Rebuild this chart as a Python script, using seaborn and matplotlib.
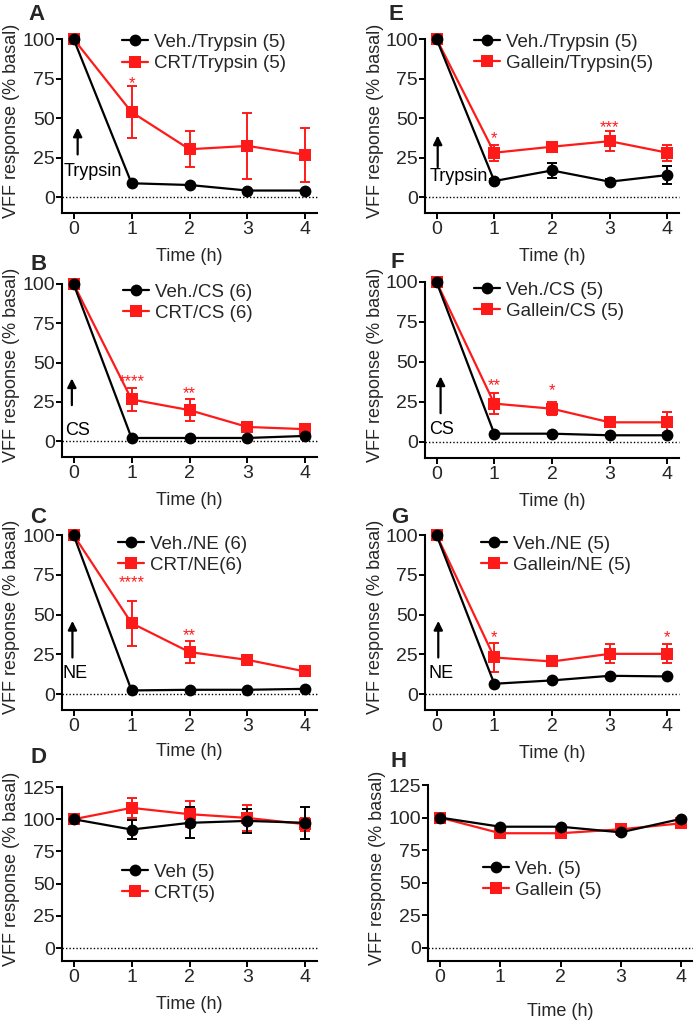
import matplotlib
matplotlib.use("Agg")
import matplotlib.pyplot as plt
from matplotlib.lines import Line2D
import pandas as pd
import seaborn as sns

# ---------------- data ----------------
time_h = [0, 1, 2, 3, 4]

# Panel A : Trypsin, CRT
a_veh = [100, 8.8, 7.7, 4.2, 4.2]
a_veh_sem = [0, 0, 0, 0, 0]
a_trt = [100, 53.8, 30.3, 32.4, 26.8]
a_trt_sem = [0, 16.5, 11.5, 21.0, 17.0]
a_labels = ["Veh./Trypsin (5)", "CRT/Trypsin (5)"]
a_star_x = [1]
a_star_y = [74.7]
a_star_txt = ["*"]

# Panel B : CS, CRT
b_veh = [100, 2.1, 2.1, 2.1, 3.4]
b_veh_sem = [0, 0, 0, 0, 0]
b_trt = [100, 26.6, 19.8, 9.1, 7.7]
b_trt_sem = [0, 7.3, 7.0, 2.0, 1.5]
b_labels = ["Veh./CS (6)", "CRT/CS (6)"]
b_star_x = [1, 2]
b_star_y = [40.6, 33.0]
b_star_txt = ["****", "**"]

# Panel C : NE, CRT
c_veh = [100, 2.3, 2.7, 2.7, 3.3]
c_veh_sem = [0, 0, 0, 0, 0]
c_trt = [100, 44.6, 26.4, 21.5, 14.2]
c_trt_sem = [0, 14.2, 7.0, 2.0, 1.5]
c_labels = ["Veh./NE (6)", "CRT/NE(6)"]
c_star_x = [1, 2]
c_star_y = [72.6, 39.3]
c_star_txt = ["****", "**"]

# Panel D : CRT alone
d_veh = [100, 92.0, 97.2, 98.7, 97.2]
d_veh_sem = [0, 7.7, 12.0, 9.4, 12.5]
d_trt = [100, 108.8, 103.9, 101.0, 96.1]
d_trt_sem = [0, 7.5, 10.0, 10.0, 5.0]
d_labels = ["Veh (5)", "CRT(5)"]
d_star_x = []
d_star_y = []
d_star_txt = []

# Panel E : Trypsin, Gallein
e_veh = [100, 10.2, 16.9, 9.8, 14.0]
e_veh_sem = [0, 1.5, 5.0, 1.5, 5.5]
e_trt = [100, 28.1, 31.9, 35.4, 28.1]
e_trt_sem = [0, 5.0, 3.0, 6.5, 5.0]
e_labels = ["Veh./Trypsin (5)", "Gallein/Trypsin(5)"]
e_star_x = [1, 3]
e_star_y = [39.6, 46.5]
e_star_txt = ["*", "***"]

# Panel F : CS, Gallein
f_veh = [100, 5.2, 5.2, 4.2, 4.2]
f_veh_sem = [0, 0, 0, 0, 0]
f_trt = [100, 24.0, 20.8, 12.3, 12.3]
f_trt_sem = [0, 6.5, 4.0, 2.0, 6.5]
f_labels = ["Veh./CS (5)", "Gallein/CS (5)"]
f_star_x = [1, 2]
f_star_y = [38.0, 34.8]
f_star_txt = ["**", "*"]

# Panel G : NE, Gallein
g_veh = [100, 6.5, 8.6, 11.5, 11.1]
g_veh_sem = [0, 0, 0, 0, 0]
g_trt = [100, 23.0, 20.5, 25.3, 25.3]
g_trt_sem = [0, 9.4, 3.0, 6.0, 6.0]
g_labels = ["Veh./NE (5)", "Gallein/NE (5)"]
g_star_x = [1, 4]
g_star_y = [38.3, 38.3]
g_star_txt = ["*", "*"]

# Panel H : Gallein alone
h_veh = [100, 93.0, 93.0, 88.7, 99.0]
h_veh_sem = [0, 0, 0, 2.0, 0]
h_trt = [100, 88.0, 88.0, 91.0, 95.6]
h_trt_sem = [0, 2.0, 2.0, 4.0, 2.0]
h_labels = ["Veh. (5)", "Gallein (5)"]
h_star_x = []
h_star_y = []
h_star_txt = []

# stimulus annotations: (text, arrow x, arrow bottom, arrow top, text x, text y)
a_stim = ("Trypsin", 0.07, 27, 44, -0.17, 16)
b_stim = ("CS", -0.03, 23, 40, -0.14, 7)
c_stim = ("NE", -0.02, 23, 46, -0.19, 13)
e_stim = ("Trypsin", 0.02, 19, 39, -0.12, 13)
f_stim = ("CS", 0.07, 18, 41, -0.12, 7.5)
g_stim = ("NE", 0.03, 23, 46, -0.14, 13)

# ---------------- style ----------------
sns.set_style("ticks")
plt.rcParams["font.family"] = ["Liberation Sans", "DejaVu Sans"]
RED = "#ff1a1a"

W, H = 693, 1024
fig = plt.figure(figsize=(W / 100, H / 100), dpi=100)


def rect(left_px, top_px, right_px, bottom_px):
    return [left_px / W, 1 - bottom_px / H, (right_px - left_px) / W, (bottom_px - top_px) / H]


panels = [
    dict(letter="A", veh=a_veh, vs=a_veh_sem, trt=a_trt, ts=a_trt_sem, labels=a_labels,
         sx=a_star_x, sy=a_star_y, st=a_star_txt, rect=rect(62, 39, 317, 213), top=100,
         leg=(0.235, 1.03), lpos=(28, 20), ylx=-0.165, xly=-0.2, stim=a_stim),
    dict(letter="B", veh=b_veh, vs=b_veh_sem, trt=b_trt, ts=b_trt_sem, labels=b_labels,
         sx=b_star_x, sy=b_star_y, st=b_star_txt, rect=rect(62, 284, 317, 457), top=100,
         leg=(0.239, 1.003), lpos=(30, 270), ylx=-0.165, xly=-0.2, stim=b_stim),
    dict(letter="C", veh=c_veh, vs=c_veh_sem, trt=c_trt, ts=c_trt_sem, labels=c_labels,
         sx=c_star_x, sy=c_star_y, st=c_star_txt, rect=rect(62, 535, 317, 710), top=100,
         leg=(0.22, 0.997), lpos=(30, 523), ylx=-0.165, xly=-0.19, stim=c_stim),
    dict(letter="D", veh=d_veh, vs=d_veh_sem, trt=d_trt, ts=d_trt_sem, labels=d_labels,
         sx=d_star_x, sy=d_star_y, st=d_star_txt, rect=rect(62, 787, 317, 961), top=125,
         leg=(0.235, 0.56), lpos=(30, 763), ylx=-0.165, xly=-0.2, stim=None),
    dict(letter="E", veh=e_veh, vs=e_veh_sem, trt=e_trt, ts=e_trt_sem, labels=e_labels,
         sx=e_star_x, sy=e_star_y, st=e_star_txt, rect=rect(425, 39, 679, 213), top=100,
         leg=(0.193, 1.032), lpos=(389, 20), ylx=-0.161, xly=-0.2, stim=e_stim),
    dict(letter="F", veh=f_veh, vs=f_veh_sem, trt=f_trt, ts=f_trt_sem, labels=f_labels,
         sx=f_star_x, sy=f_star_y, st=f_star_txt, rect=rect(425, 282, 679, 458), top=100,
         leg=(0.193, 1.003), lpos=(391, 268), ylx=-0.161, xly=-0.2, stim=f_stim),
    dict(letter="G", veh=g_veh, vs=g_veh_sem, trt=g_trt, ts=g_trt_sem, labels=g_labels,
         sx=g_star_x, sy=g_star_y, st=g_star_txt, rect=rect(425, 535, 679, 710), top=100,
         leg=(0.22, 0.997), lpos=(391, 523), ylx=-0.161, xly=-0.2, stim=g_stim),
    dict(letter="H", veh=h_veh, vs=h_veh_sem, trt=h_trt, ts=h_trt_sem, labels=h_labels,
         sx=h_star_x, sy=h_star_y, st=h_star_txt, rect=rect(428, 785, 693, 961), top=125,
         leg=(0.208, 0.571), lpos=(391, 767), ylx=-0.16, xly=-0.24, stim=None),
]

for p in panels:
    ax = fig.add_axes(p["rect"])
    lab_veh, lab_trt = p["labels"]
    df = pd.DataFrame({
        "time": time_h + time_h,
        "value": p["trt"] + p["veh"],
        "group": [lab_trt] * len(time_h) + [lab_veh] * len(time_h),
    })
    ax.axhline(0, color="black", ls=(0, (1, 1.5)), lw=1.0, zorder=0.5)

    # error bars (drawn under markers)
    for vals, sems, col in ((p["trt"], p["ts"], RED), (p["veh"], p["vs"], "black")):
        idx = [i for i, s in enumerate(sems) if s > 0]
        if idx:
            ax.errorbar([time_h[i] for i in idx], [vals[i] for i in idx],
                        yerr=[sems[i] for i in idx], fmt="none", ecolor=col,
                        elinewidth=1.4, capsize=3.5, capthick=1.4, zorder=1.5)

    sns.lineplot(data=df, x="time", y="value", hue="group", style="group",
                 hue_order=[lab_trt, lab_veh], style_order=[lab_trt, lab_veh],
                 palette={lab_trt: RED, lab_veh: "black"},
                 markers={lab_trt: "s", lab_veh: "o"}, dashes=False,
                 markersize=8.5, markeredgewidth=0, linewidth=1.6,
                 ax=ax, legend=False, zorder=2)
    for ln in ax.lines:
        ln.set_clip_on(False)

    ax.set_xlim(-0.2, 4.2)
    ax.set_ylim(-10, p["top"])
    ax.set_xticks(time_h)
    ax.set_yticks(list(range(0, p["top"] + 1, 25)))
    ax.tick_params(axis="both", labelsize=14, length=4, width=1.4, color="black")
    ax.tick_params(axis="y", pad=1)
    ax.tick_params(axis="x", pad=2)
    for s in ("left", "bottom"):
        ax.spines[s].set_linewidth(1.5)
        ax.spines[s].set_color("black")
    sns.despine(ax=ax)

    ax.set_xlabel("Time (h)", fontsize=13)
    ax.set_ylabel("VFF response (% basal)", fontsize=13)
    ax.yaxis.set_label_coords(p["ylx"], 0.53)
    ax.xaxis.set_label_coords(0.5, p["xly"])

    handles = [
        Line2D([], [], color="black", marker="o", ms=8.5, mew=0, lw=1.6),
        Line2D([], [], color=RED, marker="s", ms=8.5, mew=0, lw=1.6),
    ]
    ax.legend(handles, [lab_veh, lab_trt], loc="upper left", bbox_to_anchor=p["leg"],
              frameon=False, fontsize=13.5, borderpad=0, borderaxespad=0,
              handlelength=1.4, handletextpad=0.3, labelspacing=0.22)

    for x, y, t in zip(p["sx"], p["sy"], p["st"]):
        ax.annotate(t, (x, y), xytext=(0, -3), textcoords="offset points",
                    ha="center", va="center", color=RED, fontsize=12)

    if p["stim"] is not None:
        txt, axx, yb, yt, tx, ty = p["stim"]
        ax.annotate("", xy=(axx, yt), xytext=(axx, yb),
                    arrowprops=dict(arrowstyle="-|>", color="black", lw=1.6,
                                    mutation_scale=13, shrinkA=0, shrinkB=0))
        ax.text(tx, ty, txt, ha="left", va="center", fontsize=13, color="black")

    fig.text(p["lpos"][0] / W, 1 - p["lpos"][1] / H, p["letter"], fontsize=16,
             fontweight="bold", va="baseline", ha="left")

fig.savefig("out.png", dpi=100, facecolor="white")
